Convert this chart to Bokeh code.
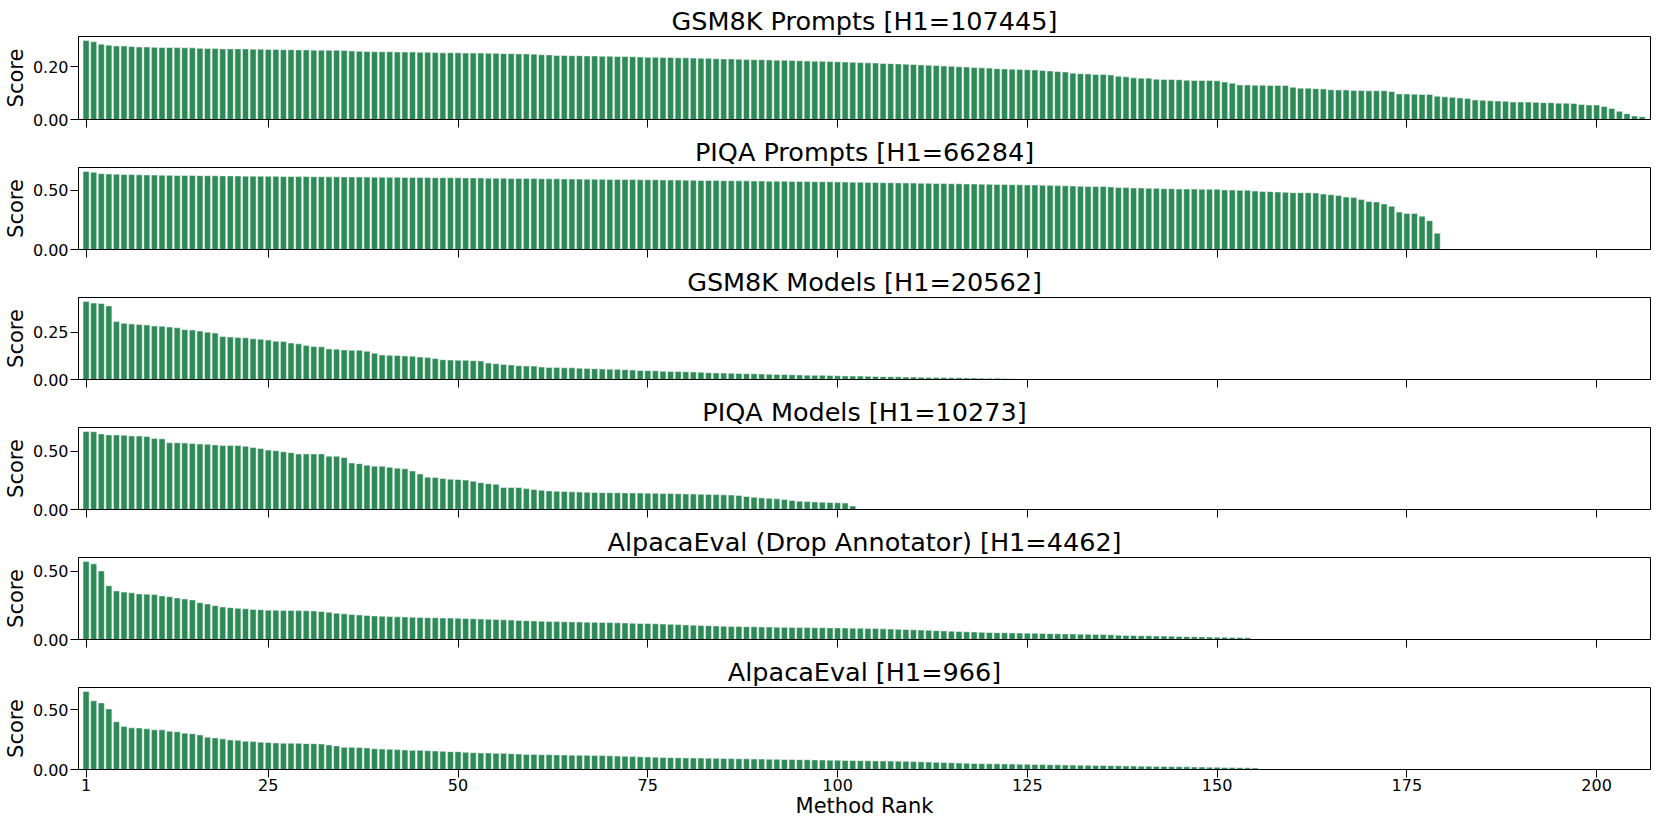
from bokeh.plotting import figure
from bokeh.layouts import column
from bokeh.models import Range1d, FixedTicker, PrintfTickFormatter, ColumnDataSource
from bokeh.embed import file_html
from bokeh.resources import INLINE

# ---------------- data (scores by method rank) ----------------
titles = [
    "GSM8K Prompts [H1=107445]",
    "PIQA Prompts [H1=66284]",
    "GSM8K Models [H1=20562]",
    "PIQA Models [H1=10273]",
    "AlpacaEval (Drop Annotator) [H1=4462]",
    "AlpacaEval [H1=966]",
]

gsm8k_prompts = [
    0.300, 0.295, 0.286, 0.282, 0.279, 0.279, 0.277, 0.275, 0.275, 0.274,
    0.273, 0.273, 0.273, 0.272, 0.272, 0.270, 0.269, 0.269, 0.268, 0.268,
    0.268, 0.268, 0.267, 0.267, 0.266, 0.266, 0.265, 0.265, 0.264, 0.264,
    0.263, 0.263, 0.263, 0.263, 0.262, 0.260, 0.259, 0.258, 0.257, 0.257,
    0.257, 0.256, 0.256, 0.256, 0.255, 0.255, 0.254, 0.253, 0.253, 0.253,
    0.252, 0.252, 0.252, 0.251, 0.251, 0.250, 0.250, 0.249, 0.249, 0.248,
    0.246, 0.245, 0.243, 0.243, 0.242, 0.242, 0.241, 0.241, 0.240, 0.240,
    0.239, 0.239, 0.238, 0.237, 0.236, 0.236, 0.235, 0.235, 0.234, 0.234,
    0.233, 0.232, 0.232, 0.231, 0.230, 0.230, 0.229, 0.228, 0.227, 0.227,
    0.226, 0.225, 0.225, 0.224, 0.223, 0.222, 0.221, 0.221, 0.220, 0.219,
    0.218, 0.217, 0.216, 0.215, 0.214, 0.213, 0.212, 0.211, 0.210, 0.209,
    0.207, 0.206, 0.205, 0.203, 0.202, 0.200, 0.199, 0.197, 0.196, 0.195,
    0.193, 0.192, 0.191, 0.190, 0.189, 0.188, 0.186, 0.184, 0.182, 0.180, 0.176,
    0.174, 0.173, 0.171, 0.171, 0.169, 0.164, 0.162, 0.158, 0.157, 0.157,
    0.153, 0.152, 0.152, 0.151, 0.149, 0.148, 0.148, 0.148, 0.147, 0.142,
    0.138, 0.131, 0.131, 0.130, 0.130, 0.129, 0.129, 0.129, 0.122, 0.119,
    0.119, 0.117, 0.116, 0.113, 0.112, 0.112, 0.110, 0.110, 0.109, 0.109,
    0.109, 0.106, 0.097, 0.097, 0.096, 0.095, 0.095, 0.088, 0.086, 0.084,
    0.082, 0.080, 0.074, 0.073, 0.071, 0.070, 0.069, 0.066, 0.066, 0.066,
    0.065, 0.064, 0.064, 0.062, 0.062, 0.061, 0.057, 0.055, 0.055, 0.049,
    0.042, 0.031, 0.022, 0.013, 0.010,
]

piqa_prompts = [
    0.660, 0.652, 0.641, 0.638, 0.636, 0.634, 0.633, 0.631, 0.630, 0.629,
    0.628, 0.627, 0.626, 0.626, 0.625, 0.624, 0.624, 0.623, 0.622, 0.622,
    0.621, 0.620, 0.620, 0.619, 0.618, 0.618, 0.617, 0.617, 0.616, 0.616,
    0.615, 0.615, 0.614, 0.614, 0.613, 0.613, 0.612, 0.612, 0.611, 0.611,
    0.610, 0.610, 0.609, 0.609, 0.608, 0.608, 0.607, 0.607, 0.606, 0.606,
    0.605, 0.605, 0.604, 0.603, 0.603, 0.602, 0.601, 0.601, 0.600, 0.599,
    0.598, 0.598, 0.597, 0.596, 0.596, 0.595, 0.594, 0.594, 0.593, 0.592,
    0.592, 0.591, 0.591, 0.590, 0.589, 0.589, 0.588, 0.587, 0.587, 0.586,
    0.585, 0.584, 0.584, 0.583, 0.582, 0.581, 0.580, 0.580, 0.579, 0.578,
    0.577, 0.577, 0.576, 0.575, 0.575, 0.574, 0.573, 0.573, 0.572, 0.571,
    0.570, 0.569, 0.568, 0.567, 0.566, 0.565, 0.564, 0.563, 0.562, 0.561,
    0.560, 0.559, 0.558, 0.557, 0.556, 0.555, 0.554, 0.553, 0.552, 0.551,
    0.550, 0.549, 0.548, 0.547, 0.546, 0.545, 0.544, 0.542, 0.540, 0.538,
    0.536, 0.534,
    0.532, 0.532, 0.532, 0.529, 0.523, 0.523, 0.520, 0.520, 0.517, 0.517,
    0.514, 0.514, 0.511, 0.511, 0.511, 0.509, 0.509, 0.509, 0.503, 0.503,
    0.500, 0.500, 0.494, 0.491, 0.489, 0.486, 0.483, 0.480, 0.480, 0.480,
    0.477, 0.468, 0.463, 0.457, 0.443, 0.440, 0.422, 0.405, 0.402, 0.385,
    0.365, 0.316, 0.305, 0.305, 0.282, 0.244, 0.138,
]

gsm8k_models = [
    0.414, 0.405, 0.403, 0.390, 0.307, 0.298, 0.294, 0.291, 0.289, 0.283,
    0.282, 0.278, 0.274, 0.264, 0.262, 0.257, 0.251, 0.246, 0.228, 0.225,
    0.223, 0.221, 0.216, 0.214, 0.209, 0.203, 0.201, 0.193, 0.189, 0.180,
    0.175, 0.173, 0.162, 0.160, 0.157, 0.155, 0.155, 0.150, 0.139, 0.130,
    0.128, 0.127, 0.125, 0.123, 0.119, 0.116, 0.111, 0.105, 0.103, 0.102,
    0.102, 0.100, 0.098, 0.087, 0.084, 0.080, 0.077, 0.073, 0.071, 0.071,
    0.066,
    0.064, 0.063, 0.062, 0.062, 0.060, 0.058, 0.057, 0.056, 0.055, 0.054,
    0.052, 0.050, 0.048, 0.047, 0.046, 0.044, 0.043, 0.042, 0.041, 0.040,
    0.038, 0.036, 0.035, 0.034, 0.033, 0.032, 0.031, 0.030, 0.029, 0.028,
    0.027, 0.026, 0.025, 0.024, 0.023, 0.022, 0.022, 0.021, 0.020, 0.019,
    0.018, 0.018, 0.017, 0.016, 0.015, 0.015, 0.014, 0.013, 0.013, 0.012,
    0.011, 0.011, 0.010, 0.009, 0.009, 0.008, 0.008, 0.007, 0.006, 0.006,
    0.005, 0.004,
]

piqa_models = [
    0.672, 0.669, 0.650, 0.642, 0.642, 0.639, 0.633, 0.633, 0.628, 0.611,
    0.608, 0.575, 0.575, 0.572, 0.567, 0.564, 0.561, 0.556, 0.550, 0.550,
    0.550, 0.544, 0.533, 0.525, 0.511, 0.506, 0.497, 0.489, 0.478, 0.478,
    0.478, 0.478, 0.458, 0.458, 0.447, 0.400, 0.394, 0.381, 0.372, 0.372,
    0.364, 0.356, 0.350, 0.331, 0.306, 0.278, 0.275, 0.267, 0.261, 0.258,
    0.253, 0.244, 0.231, 0.222, 0.217, 0.189, 0.189, 0.189,
    0.180, 0.172, 0.165, 0.160, 0.157, 0.155, 0.152, 0.150, 0.148, 0.146,
    0.145, 0.145, 0.144, 0.143, 0.142, 0.141, 0.140, 0.139, 0.138, 0.137,
    0.136, 0.134, 0.133, 0.131, 0.130, 0.128, 0.126, 0.124, 0.120, 0.112,
    0.105, 0.100, 0.096, 0.092, 0.085, 0.078, 0.072, 0.068, 0.065, 0.062,
    0.060, 0.058, 0.055, 0.030,
]

alpaca_drop = [
    0.572, 0.554, 0.502, 0.394, 0.356, 0.347, 0.342, 0.334, 0.332, 0.329,
    0.319, 0.314, 0.304, 0.297, 0.290, 0.270, 0.260, 0.248, 0.238, 0.233,
    0.228, 0.225, 0.220, 0.218, 0.215, 0.214, 0.213, 0.213, 0.212, 0.210,
    0.209, 0.205, 0.200, 0.192, 0.188, 0.184, 0.180, 0.176, 0.173, 0.170,
    0.168, 0.166, 0.165, 0.163, 0.162, 0.160, 0.159, 0.158, 0.157, 0.156,
    0.154, 0.152, 0.150, 0.148, 0.146, 0.144, 0.142, 0.140, 0.138, 0.136,
    0.134, 0.132, 0.131, 0.130, 0.129, 0.128, 0.127, 0.126, 0.125, 0.124,
    0.122, 0.121, 0.119, 0.118, 0.117, 0.115, 0.113, 0.111, 0.109, 0.107,
    0.105, 0.103, 0.101, 0.099, 0.097, 0.096, 0.095, 0.094, 0.093, 0.092,
    0.091, 0.090, 0.089, 0.088, 0.087, 0.087, 0.086, 0.086, 0.085, 0.085,
    0.084, 0.083, 0.082, 0.081, 0.080, 0.078, 0.077, 0.075, 0.073, 0.071,
    0.069, 0.067, 0.065, 0.063, 0.061, 0.059, 0.057, 0.055, 0.053, 0.051,
    0.050, 0.049, 0.048, 0.047, 0.046, 0.045, 0.044, 0.043, 0.042, 0.041,
    0.040, 0.039, 0.038, 0.037, 0.036, 0.034, 0.032, 0.030, 0.029, 0.028,
    0.027, 0.026, 0.025, 0.024, 0.022, 0.021, 0.020, 0.019, 0.018, 0.017,
    0.016, 0.015, 0.014, 0.013,
]

alpaca = [
    0.652, 0.573, 0.556, 0.506, 0.399, 0.360, 0.348, 0.346, 0.340, 0.331,
    0.331, 0.320, 0.315, 0.303, 0.298, 0.289, 0.270, 0.264, 0.256, 0.247,
    0.244, 0.236, 0.233, 0.228, 0.225, 0.222, 0.219, 0.219, 0.219, 0.216,
    0.216, 0.213, 0.205, 0.197, 0.185, 0.185, 0.183, 0.180, 0.174, 0.171,
    0.169, 0.166, 0.163, 0.160, 0.160, 0.157, 0.154, 0.152, 0.149, 0.149,
    0.143, 0.140, 0.138, 0.138, 0.135, 0.135, 0.132, 0.129, 0.126, 0.126,
    0.124, 0.124, 0.122, 0.121, 0.120, 0.119, 0.118, 0.117, 0.116, 0.114,
    0.112, 0.110, 0.108, 0.106, 0.104, 0.102, 0.100, 0.099, 0.098, 0.097,
    0.096, 0.095, 0.094, 0.093, 0.092, 0.091, 0.090, 0.089, 0.088, 0.087,
    0.086, 0.085, 0.084, 0.083, 0.082, 0.081, 0.080, 0.079, 0.078, 0.077,
    0.076, 0.075, 0.074, 0.073, 0.072, 0.071, 0.070, 0.069, 0.068, 0.066,
    0.064, 0.062, 0.060, 0.058, 0.056, 0.054, 0.052, 0.050, 0.049, 0.048,
    0.047, 0.046, 0.045, 0.044, 0.043, 0.042, 0.041, 0.040, 0.039, 0.038,
    0.037, 0.036, 0.035, 0.034, 0.033, 0.032, 0.031, 0.030, 0.029, 0.028,
    0.027, 0.026, 0.025, 0.024, 0.023, 0.022, 0.021, 0.020, 0.019, 0.018,
    0.017, 0.016, 0.015, 0.014, 0.013,
]

series = [gsm8k_prompts, piqa_prompts, gsm8k_models, piqa_models, alpaca_drop, alpaca]
y_ticks = [[0, 0.2], [0, 0.5], [0, 0.25], [0, 0.5], [0, 0.5], [0, 0.5]]
x_ticks = [1, 25, 50, 75, 100, 125, 150, 175, 200]
x_label = "Method Rank"
y_label = "Score"

# ---------------- styling ----------------
FONT = "DejaVu Sans"
BAR_COLOR = "#2e8b57"
X_MAX = 207.1

figs = []
n = len(series)
for i, (title, vals, yt) in enumerate(zip(titles, series, y_ticks)):
    first = (i == 0)
    last = (i == n - 1)
    top_border = 36 if first else 33
    height = top_border + 83 + (52 if last else 14)
    p = figure(
        width=1652, height=height,
        x_range=Range1d(0, X_MAX), y_range=Range1d(0, max(vals) * 1.05),
        output_backend="svg", toolbar_location=None,
        min_border_left=73, min_border_right=2, min_border_top=top_border,
        min_border_bottom=52 if last else 14,
    )
    src = ColumnDataSource(dict(rank=list(range(1, len(vals) + 1)), score=vals))
    p.vbar(x="rank", top="score", width=0.8, source=src,
           fill_color=BAR_COLOR, line_color="white", line_alpha=0.6, line_width=0.8)

    p.title.text = title
    p.title.align = "center"
    p.title.text_font = FONT
    p.title.text_font_size = "25.5px"
    p.title.text_font_style = "normal"
    p.title.text_color = "black"
    p.title.standoff = 2

    p.xgrid.visible = False
    p.ygrid.visible = False
    p.outline_line_color = "black"
    p.outline_line_width = 1
    p.outline_line_alpha = 1

    for ax in (p.xaxis, p.yaxis):
        ax.axis_line_color = "black"
        ax.major_tick_line_color = "black"
        ax.major_tick_out = 8
        ax.major_tick_in = 0
        ax.minor_tick_line_color = None
        ax.major_label_text_font = FONT
        ax.major_label_text_color = "black"
        ax.major_label_text_font_size = "16px"

    p.xaxis.ticker = FixedTicker(ticks=x_ticks)
    p.yaxis.ticker = FixedTicker(ticks=yt)
    p.yaxis.formatter = PrintfTickFormatter(format="%.2f")
    p.yaxis.major_label_standoff = 2
    p.yaxis.axis_label = y_label
    p.yaxis.axis_label_text_font = FONT
    p.yaxis.axis_label_text_font_size = "21px"
    p.yaxis.axis_label_text_font_style = "normal"
    p.yaxis.axis_label_text_color = "black"
    p.yaxis.axis_label_standoff = 2

    if last:
        p.xaxis.major_label_standoff = 1
        p.xaxis.axis_label = x_label
        p.xaxis.axis_label_text_font = FONT
        p.xaxis.axis_label_text_font_size = "21px"
        p.xaxis.axis_label_text_font_style = "normal"
        p.xaxis.axis_label_text_color = "black"
        p.xaxis.axis_label_standoff = 0
    else:
        # shared x axis: tick marks only, tick labels hidden
        p.xaxis.major_label_text_font_size = "0px"
        p.xaxis.major_label_standoff = 0
    figs.append(p)

layout = column(*figs, spacing=0)
open("out.html", "w").write(file_html(layout, INLINE))
